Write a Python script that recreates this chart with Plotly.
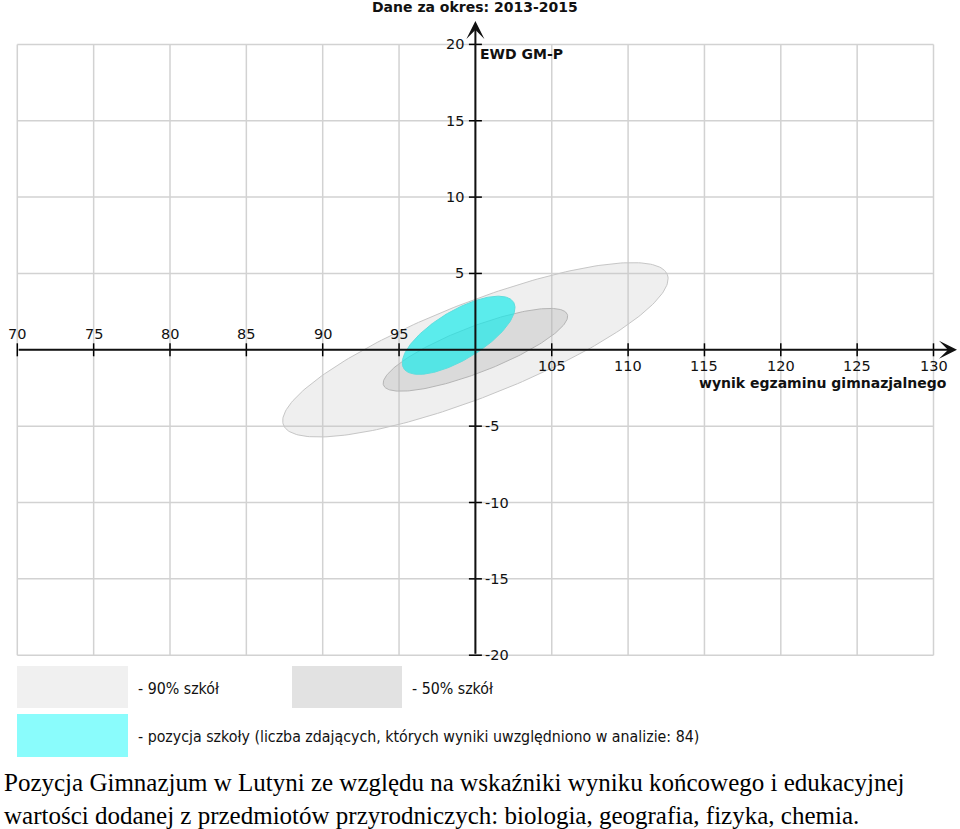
import numpy as np
import plotly.graph_objects as go

# ellipses: 90% szkół, 50% szkół, pozycja szkoły
ellipse_names = ["- 90% szkół", "- 50% szkół", "- pozycja szkoły"]
center_x = [100.0, 100.0, 98.9]
center_y = [0.0, 0.0, 0.95]
semi_major = [13.5, 6.45, 4.2]
semi_minor = [3.1, 1.5, 1.6]
angle_deg = [21.4, 21.1, 31.0]

x_ticks = [70, 75, 80, 85, 90, 95, 100, 105, 110, 115, 120, 125, 130]
y_ticks = [-20, -15, -10, -5, 0, 5, 10, 15, 20]

fills = ["rgba(195,195,195,0.27)", "rgba(170,170,170,0.30)", "rgba(20,235,235,0.68)"]
edges = ["#c6c6c6", "#b5b5b5", "#5cdede"]

W, H = 960, 829
PX = 15.27              # pixels per data unit
X0_PX, Y0_PX = 17.3, 349.8
xr = [70 - X0_PX / PX, 70 + (W - X0_PX) / PX]
yr = [(Y0_PX - H) / PX, Y0_PX / PX]

fig = go.Figure()

# ellipses
t = np.linspace(0, 2 * np.pi, 241)
for i in range(len(center_x)):
    th = np.radians(angle_deg[i])
    ex = center_x[i] + semi_major[i] * np.cos(t) * np.cos(th) - semi_minor[i] * np.sin(t) * np.sin(th)
    ey = center_y[i] + semi_major[i] * np.cos(t) * np.sin(th) + semi_minor[i] * np.sin(t) * np.cos(th)
    fig.add_trace(go.Scatter(x=ex, y=ey, mode="lines", fill="toself",
                             fillcolor=fills[i], line=dict(color=edges[i], width=1),
                             hoverinfo="skip", showlegend=False))

shapes = []
grid = "#d2d2d2"
# grid
for xv in x_ticks:
    shapes.append(dict(type="line", x0=xv, x1=xv, y0=y_ticks[0], y1=y_ticks[-1],
                       line=dict(color=grid, width=1.5), layer="below"))
for yv in y_ticks:
    shapes.append(dict(type="line", x0=x_ticks[0], x1=x_ticks[-1], y0=yv, y1=yv,
                       line=dict(color=grid, width=1.5), layer="below"))

# tick marks
tl = 6.5 / PX
for xv in x_ticks:
    if xv != 100:
        shapes.append(dict(type="line", x0=xv, x1=xv, y0=-tl, y1=tl,
                           line=dict(color="black", width=1.5)))
for yv in y_ticks:
    if yv != 0:
        shapes.append(dict(type="line", x0=100 - tl, x1=100 + tl, y0=yv, y1=yv,
                           line=dict(color="black", width=1.5)))

# legend boxes
def box(x0, x1, y0, y1, color):
    return dict(type="rect", xref="paper", yref="paper",
                x0=x0 / W, x1=x1 / W, y0=1 - y1 / H, y1=1 - y0 / H,
                fillcolor=color, line=dict(width=0))

shapes.append(box(17, 128, 666, 708, "#f0f0f0"))
shapes.append(box(292, 402, 666, 708, "#e2e2e2"))
shapes.append(box(17, 128, 714, 757, "#8afcfc"))

annotations = []
# axes with arrows
x_tip = 70 + (957 - X0_PX) / PX
y_tip = (Y0_PX - 21) / PX
annotations.append(dict(x=x_tip, y=0, ax=70, ay=0, axref="x", ayref="y", text="",
                        showarrow=True, arrowhead=3, arrowsize=1.5, arrowwidth=2,
                        arrowcolor="#111"))
annotations.append(dict(x=100, y=y_tip, ax=100, ay=-20, axref="x", ayref="y", text="",
                        showarrow=True, arrowhead=3, arrowsize=1.5, arrowwidth=2,
                        arrowcolor="#111"))

tick_font = dict(family="DejaVu Sans", size=14.5, color="#111")
for xv in x_ticks:
    if xv < 100:
        annotations.append(dict(x=xv, y=0, text=str(xv), showarrow=False,
                                yshift=16, font=tick_font))
    elif xv > 100:
        annotations.append(dict(x=xv, y=0, text=str(xv), showarrow=False,
                                yshift=-16, font=tick_font))
for yv in y_ticks:
    if yv > 0:
        annotations.append(dict(x=100, y=yv, text=str(yv), showarrow=False,
                                xanchor="right", xshift=-9, font=tick_font))
    elif yv < 0:
        annotations.append(dict(x=100, y=yv, text=str(yv), showarrow=False,
                                xanchor="left", xshift=8, font=tick_font))

bold = dict(family="DejaVu Sans", size=14, color="#111")

def ptext(px, py, text, font, xanchor="left"):
    return dict(xref="paper", yref="paper", x=px / W, y=1 - py / H, text=text,
                showarrow=False, xanchor=xanchor, yanchor="middle", font=font)

annotations.append(ptext(475, 7, "<b>Dane za okres: 2013-2015</b>", bold, "center"))
annotations.append(ptext(478, 54, "<b>EWD GM-P</b>", bold))
annotations.append(ptext(949, 383, "<b>wynik egzaminu gimnazjalnego</b>", bold, "right"))

leg_font = dict(family="DejaVu Sans Condensed, DejaVu Sans", size=15.8, color="#111")
annotations.append(ptext(136, 688, ellipse_names[0], leg_font))
annotations.append(ptext(410, 688, ellipse_names[1], leg_font))
annotations.append(ptext(136, 736, ellipse_names[2] +
                         " (liczba zdających, których wyniki uwzględniono w analizie: 84)", leg_font))

cap_font = dict(family="Liberation Serif", size=25, color="black")
caption = ("Pozycja Gimnazjum w Lutyni ze względu na wskaźniki wyniku końcowego i edukacyjnej<br>"
           "wartości dodanej z przedmiotów przyrodniczych: biologia, geografia, fizyka, chemia.")
cap = ptext(2, 799, caption, cap_font)
cap["align"] = "left"
annotations.append(cap)

fig.update_layout(
    width=W, height=H,
    margin=dict(l=0, r=0, t=0, b=0),
    plot_bgcolor="white", paper_bgcolor="white",
    xaxis=dict(range=xr, visible=False, fixedrange=True),
    yaxis=dict(range=yr, visible=False, fixedrange=True),
    shapes=shapes, annotations=annotations,
    showlegend=False,
)

fig.write_html("out.html", config={"displayModeBar": False},
               post_script="document.body.style.margin='0';")
